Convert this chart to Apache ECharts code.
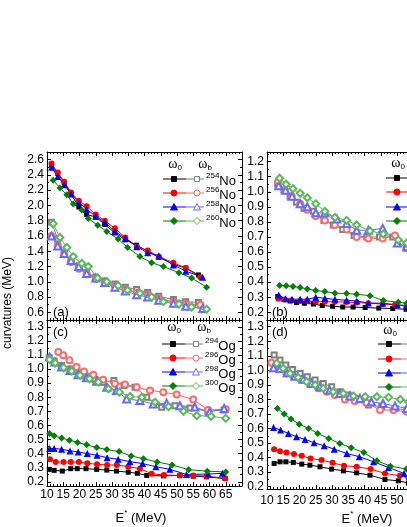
<!DOCTYPE html>
<html>
<head>
<meta charset="utf-8">
<script src="https://cdn.jsdelivr.net/npm/echarts@6.0.0/dist/echarts.min.js"></script>
<style>
  html, body { margin: 0; padding: 0; background: #fff; }
  #main { width: 407px; height: 527px; }
</style>
</head>
<body>
<div id="main"></div>
<script>
// curvatures (MeV) against E* (MeV), [E*, value]
// (a) No isotopes
var a254_w0 = [[11.4,2.53],[13.3,2.42],[15.3,2.30],[17.4,2.15],[19.8,1.98],[22.2,1.88],[25.0,1.85],[27.8,1.75],[30.9,1.64],[34.1,1.55],[37.6,1.48],[41.0,1.40],[44.4,1.32],[48.9,1.23],[52.7,1.18],[56.6,1.09]];
var a254_wb = [[11.4,1.78],[13.3,1.56],[15.3,1.37],[17.4,1.27],[19.8,1.21],[22.2,1.12],[25.0,1.06],[27.8,1.01],[30.9,0.97],[34.1,0.93],[37.6,0.90],[41.0,0.86],[44.4,0.81],[48.9,0.77],[52.7,0.74],[56.6,0.73]];
var a256_w0 = [[11.4,2.55],[13.3,2.43],[15.3,2.31],[17.4,2.17],[19.8,2.06],[22.2,1.99],[25.0,1.88],[27.8,1.80],[30.9,1.70],[34.1,1.58],[37.6,1.46],[41.0,1.41],[44.4,1.33],[48.9,1.25],[52.7,1.18],[57.2,1.06]];
var a256_wb = [[11.4,1.60],[13.3,1.48],[15.3,1.36],[17.4,1.26],[19.8,1.17],[22.2,1.10],[25.0,1.04],[27.8,0.99],[30.9,0.95],[34.1,0.90],[37.6,0.86],[41.0,0.83],[44.4,0.78],[48.9,0.74],[52.7,0.71],[57.2,0.70]];
var a258_w0 = [[11.4,2.50],[13.3,2.38],[15.3,2.27],[17.4,2.15],[19.8,2.04],[22.2,1.95],[25.0,1.86],[27.8,1.78],[30.9,1.66],[34.1,1.57],[37.6,1.46],[41.0,1.38],[44.4,1.34],[48.9,1.22],[52.7,1.14],[57.9,1.06]];
var a258_wb = [[11.4,1.60],[13.3,1.47],[15.3,1.37],[17.4,1.28],[19.8,1.20],[22.2,1.11],[25.0,1.05],[27.8,0.99],[30.9,0.93],[34.1,0.88],[37.6,0.83],[41.0,0.80],[44.4,0.76],[48.9,0.72],[52.7,0.68],[57.9,0.65]];
var a260_w0 = [[11.9,2.33],[14.0,2.23],[16.1,2.14],[18.1,2.02],[20.7,1.94],[22.7,1.83],[25.6,1.74],[28.4,1.66],[31.9,1.56],[34.8,1.45],[38.6,1.33],[42.2,1.25],[45.8,1.20],[50.6,1.12],[54.5,1.05],[59.1,0.93]];
var a260_wb = [[11.9,1.76],[14.0,1.58],[16.1,1.45],[18.1,1.33],[20.7,1.24],[22.7,1.20],[25.6,1.05],[28.4,1.00],[31.9,0.95],[34.8,0.89],[38.6,0.85],[42.2,0.80],[45.8,0.74],[50.6,0.71],[54.5,0.67],[59.1,0.64]];
// (b)
var b254_w0 = [[13.3,0.305],[15.2,0.285],[17.1,0.275],[19.1,0.265],[21.5,0.26],[24.3,0.255],[27.0,0.245],[30.2,0.24],[33.3,0.235],[36.5,0.235],[40.2,0.232],[44.4,0.228],[48.7,0.225],[52.8,0.22]];
var b254_wb = [[13.3,1.05],[15.2,1.01],[17.1,0.97],[19.1,0.93],[21.4,0.89],[24.3,0.87],[27.5,0.81],[30.4,0.78],[33.3,0.75],[36.8,0.71],[40.7,0.70],[44.6,0.70],[48.7,0.70],[52.8,0.625]];
var b256_w0 = [[13.5,0.29],[15.5,0.285],[17.6,0.28],[20.2,0.275],[22.4,0.275],[25.0,0.27],[27.8,0.27],[30.9,0.27],[34.5,0.268],[37.6,0.265],[41.2,0.26],[45.6,0.255],[49.4,0.25],[53.0,0.24]];
var b256_wb = [[13.5,1.07],[15.5,1.01],[17.6,0.97],[20.2,0.92],[22.4,0.88],[25.0,0.84],[27.8,0.81],[30.9,0.78],[34.5,0.75],[37.6,0.70],[41.2,0.69],[45.6,0.69],[49.4,0.71],[53.0,0.65]];
var b258_w0 = [[13.6,0.315],[15.7,0.29],[17.7,0.286],[20.2,0.288],[22.4,0.286],[25.0,0.30],[27.8,0.293],[30.9,0.286],[34.5,0.28],[37.6,0.275],[41.2,0.262],[45.6,0.26],[50.1,0.25],[53.0,0.245]];
var b258_wb = [[13.6,1.04],[15.7,1.01],[17.7,0.97],[20.2,0.92],[22.4,0.90],[25.0,0.86],[27.8,0.86],[31.5,0.82],[34.5,0.79],[37.6,0.745],[41.2,0.745],[45.6,0.757],[50.1,0.66],[53.0,0.635]];
var b260_w0 = [[13.9,0.378],[15.9,0.377],[18.0,0.372],[20.2,0.365],[22.4,0.355],[25.0,0.345],[27.8,0.338],[30.9,0.326],[34.5,0.325],[37.6,0.32],[41.7,0.31],[45.8,0.278],[50.4,0.267],[53.0,0.26]];
var b260_wb = [[13.9,1.09],[15.9,1.05],[18.0,1.02],[20.2,0.99],[22.4,0.96],[25.0,0.92],[27.8,0.87],[30.9,0.83],[34.5,0.81],[37.6,0.78],[41.7,0.74],[45.8,0.72],[50.4,0.68],[53.0,0.66]];
// (c) Og isotopes
var c294_w0 = [[10.7,0.288],[12.2,0.281],[14.7,0.276],[17.3,0.293],[19.3,0.293],[22.0,0.293],[25.3,0.288],[28.4,0.283],[31.4,0.276],[35.0,0.268],[37.8,0.26],[40.7,0.245],[45.8,0.242],[50.9,0.245],[55.0,0.24],[59.1,0.235],[64.8,0.222]];
var c294_wb = [[10.7,1.08],[12.2,1.057],[14.5,1.026],[17.1,1.0],[19.6,0.971],[22.2,0.943],[24.8,0.924],[27.3,0.907],[30.6,0.919],[33.7,0.883],[37.1,0.871],[40.7,0.80],[45.3,0.729],[49.4,0.74],[54.0,0.724],[59.5,0.70],[64.5,0.71]];
var c296_w0 = [[10.9,0.36],[12.7,0.34],[15.1,0.34],[17.3,0.34],[19.8,0.34],[22.4,0.331],[25.4,0.324],[28.5,0.319],[31.5,0.319],[35.0,0.307],[38.6,0.293],[42.2,0.257],[46.0,0.248],[50.9,0.245],[55.0,0.245],[59.1,0.24],[64.8,0.225]];
var c296_wb = [[13.5,1.121],[15.0,1.098],[16.9,1.062],[19.1,1.014],[21.4,0.983],[24.3,0.96],[27.3,0.924],[30.9,0.895],[34.0,0.89],[37.6,0.871],[41.7,0.848],[45.8,0.836],[49.9,0.819],[55.0,0.783],[59.6,0.71],[65.0,0.715]];
var c298_w0 = [[10.8,0.436],[12.2,0.436],[14.5,0.431],[17.1,0.419],[19.6,0.412],[22.4,0.40],[25.4,0.388],[28.5,0.371],[31.9,0.36],[35.5,0.343],[39.4,0.329],[43.5,0.307],[47.8,0.288],[52.9,0.252],[59.6,0.255],[64.0,0.26]];
var c298_wb = [[10.8,1.086],[12.4,1.05],[14.5,1.014],[17.1,0.99],[19.6,0.96],[22.2,0.938],[25.3,0.914],[28.4,0.871],[31.4,0.848],[34.5,0.788],[38.6,0.776],[42.7,0.752],[46.8,0.757],[50.9,0.74],[55.5,0.73],[60.0,0.695],[64.5,0.72]];
var c300_w0 = [[10.8,0.543],[12.2,0.526],[14.5,0.51],[16.9,0.495],[19.4,0.479],[22.2,0.462],[25.3,0.443],[28.4,0.429],[32.2,0.414],[35.9,0.383],[39.7,0.364],[43.9,0.34],[48.5,0.319],[53.6,0.286],[59.3,0.275],[65.0,0.27]];
var c300_wb = [[10.8,1.067],[12.5,1.043],[15.1,1.01],[17.6,0.986],[20.2,0.955],[23.1,0.931],[25.8,0.907],[28.9,0.86],[32.3,0.836],[35.6,0.805],[39.2,0.80],[43.3,0.764],[47.4,0.733],[52.0,0.70],[56.1,0.669],[60.5,0.665],[65.0,0.65]];
// (d)
var d294_w0 = [[12.2,0.360],[14.0,0.371],[15.8,0.371],[18.1,0.367],[20.7,0.355],[23.2,0.348],[26.3,0.337],[29.9,0.321],[33.5,0.309],[37.6,0.295],[41.7,0.279],[46.3,0.249],[50.4,0.240],[53.5,0.226]];
var d294_wb = [[12.2,1.105],[14.0,1.071],[15.8,1.036],[17.9,1.006],[20.2,0.979],[22.4,0.956],[24.8,0.933],[27.3,0.910],[29.9,0.887],[32.5,0.853],[35.0,0.830],[37.6,0.807],[41.2,0.761],[45.3,0.750],[49.4,0.738],[53.0,0.727]];
var d296_w0 = [[12.2,0.458],[14.0,0.444],[16.0,0.435],[18.3,0.424],[20.7,0.412],[23.4,0.394],[26.8,0.383],[30.2,0.364],[33.7,0.344],[37.6,0.337],[41.9,0.321],[46.3,0.291],[50.9,0.275],[53.5,0.263]];
var d296_wb = [[11.4,1.052],[14.0,1.013],[16.0,0.979],[18.3,0.956],[20.7,0.933],[23.2,0.905],[25.8,0.876],[28.4,0.853],[30.9,0.830],[34.0,0.800],[37.0,0.789],[40.6,0.777],[44.8,0.727],[48.9,0.727],[53.0,0.715]];
var d298_w0 = [[12.0,0.607],[14.2,0.589],[16.6,0.566],[19.1,0.543],[21.7,0.525],[24.5,0.502],[27.6,0.481],[30.7,0.458],[34.6,0.428],[38.4,0.406],[42.8,0.371],[47.4,0.332],[52.2,0.291]];
var d298_wb = [[12.0,1.018],[14.0,1.013],[16.2,0.983],[18.6,0.960],[21.1,0.938],[23.7,0.910],[26.3,0.887],[29.3,0.864],[32.4,0.841],[35.5,0.823],[38.6,0.807],[42.1,0.784],[45.7,0.772],[49.4,0.754],[53.0,0.738]];
var d300_w0 = [[13.2,0.738],[15.3,0.699],[17.4,0.665],[19.9,0.630],[22.8,0.600],[25.6,0.566],[29.0,0.532],[32.4,0.497],[35.9,0.467],[39.8,0.435],[43.8,0.378],[48.0,0.341],[52.9,0.321]];
var d300_wb = [[13.0,1.048],[15.0,1.013],[17.1,0.979],[19.6,0.951],[22.2,0.922],[24.8,0.899],[27.3,0.876],[30.4,0.853],[33.5,0.841],[36.6,0.823],[40.2,0.818],[43.8,0.818],[47.4,0.814],[51.0,0.800],[53.6,0.784]];

var noMass = ['254', '256', '258', '260'];
var ogMass = ['294', '296', '298', '300'];
var xTicks = [10, 70, 5];
var yTicks = [[0.5, 2.7, 0.2], [0.149, 1.264, 0.1], [0.17, 1.348, 0.1], [0.184, 1.346, 0.1]];

var dark = ['#000000', '#ff0000', '#0000ff', '#008000'];
var light = ['#808080', '#ff6a6a', '#6a6aff', '#5cb85c'];
var shapes = ['rect', 'circle', 'triangle', 'diamond'];
var emptyShapes = ['emptyRect', 'emptyCircle', 'emptyTriangle', 'emptyDiamond'];
var sizes = [5, 6, 7, 7];
var FONT = '"Liberation Sans", Arial, sans-serif';

var grids = [
  {left: 47, top: 152, width: 195, height: 168},
  {left: 267, top: 152, width: 195, height: 168},
  {left: 47, top: 320, width: 195, height: 166},
  {left: 267, top: 320, width: 195, height: 169}
];
grids.forEach(function (g) { g.containLabel = false; g.outerBoundsMode = 'none'; });

function curve(data, panel, k, open) {
  var c = open ? light[k] : dark[k];
  return {
    type: 'line', xAxisIndex: panel * 2, yAxisIndex: panel * 2,
    data: data,
    symbol: open ? emptyShapes[k] : shapes[k],
    symbolSize: sizes[k],
    lineStyle: {color: c, width: 1},
    itemStyle: {color: c},
    z: open ? 2 : 3,
    animation: false, silent: true
  };
}

var panels = [
  [a254_w0, a254_wb, a256_w0, a256_wb, a258_w0, a258_wb, a260_w0, a260_wb],
  [b254_w0, b254_wb, b256_w0, b256_wb, b258_w0, b258_wb, b260_w0, b260_wb],
  [c294_w0, c294_wb, c296_w0, c296_wb, c298_w0, c298_wb, c300_w0, c300_wb],
  [d294_w0, d294_wb, d296_w0, d296_wb, d298_w0, d298_wb, d300_w0, d300_wb]
];

var series = [];
panels.forEach(function (list, p) {
  for (var k = 0; k < 4; k++) {
    series.push(curve(list[k * 2 + 1], p, k, true));
    series.push(curve(list[k * 2], p, k, false));
  }
});

var xAxes = [], yAxes = [];
grids.forEach(function (g, p) {
  var labelled = p >= 2;
  ['bottom', 'top'].forEach(function (pos) {
    xAxes.push({
      gridIndex: p, type: 'value', position: pos,
      min: xTicks[0], max: xTicks[1], interval: xTicks[2],
      axisLine: {show: true, lineStyle: {color: '#000', width: 1}},
      axisTick: {show: true, inside: true, length: 4, lineStyle: {color: '#000'}},
      minorTick: {show: true, splitNumber: 5, length: 2, lineStyle: {color: '#000'}},
      splitLine: {show: false},
      axisLabel: {
        show: labelled && pos === 'bottom', color: '#000', fontSize: 12, fontFamily: FONT,
        margin: p === 3 ? 6 : 3,
        formatter: function (v) { return v === 70 ? '' : String(v); }
      }
    });
  });
  var yr = yTicks[p];
  ['left', 'right'].forEach(function (pos) {
    yAxes.push({
      gridIndex: p, type: 'value', position: pos,
      min: yr[0], max: yr[1], minInterval: yr[2], maxInterval: yr[2], splitNumber: 10,
      axisLine: {show: true, lineStyle: {color: '#000', width: 1}},
      axisTick: {show: true, inside: true, length: 4, lineStyle: {color: '#000'}},
      minorTick: {show: true, splitNumber: 2, length: 2, lineStyle: {color: '#000'}},
      splitLine: {show: false},
      axisLabel: {
        show: pos === 'left', color: '#000', fontSize: 12, fontFamily: FONT, margin: 3,
        formatter: function (v) {
          var n = v / yr[2];
          return Math.abs(n - Math.round(n)) < 1e-6 ? v.toFixed(1) : '';
        }
      }
    });
  });
});

// legend boxes, drawn by hand like the Origin legend
function mark(x, y, k, filled) {
  var c = filled ? dark[k] : light[k];
  var st = {fill: filled ? c : '#fff', stroke: c, lineWidth: 1};
  if (k === 0) return {type: 'rect', shape: {x: x - 2.5, y: y - 2.5, width: 5, height: 5}, style: st, z: 10};
  if (k === 1) return {type: 'circle', shape: {cx: x, cy: y, r: 3}, style: st, z: 10};
  if (k === 2) return {type: 'polygon', shape: {points: [[x, y - 3.5], [x + 3.5, y + 3], [x - 3.5, y + 3]]}, style: st, z: 10};
  return {type: 'polygon', shape: {points: [[x, y - 3.5], [x + 3.5, y], [x, y + 3.5], [x - 3.5, y]]}, style: st, z: 10};
}

var omegaRich = {
  w: {fontFamily: '"Liberation Serif", serif', fontSize: 14, lineHeight: 16, verticalAlign: 'middle'},
  s: {fontFamily: FONT, fontSize: 8, lineHeight: 8, verticalAlign: 'bottom'}
};
var nucRich = {
  s: {fontFamily: FONT, fontSize: 8, lineHeight: 8, verticalAlign: 'top'},
  n: {fontFamily: FONT, fontSize: 13, lineHeight: 16, verticalAlign: 'bottom'}
};

function legend(mx, headY, rows, masses, elem) {
  var els = [];
  els.push({type: 'text', x: mx + 1, y: headY, z: 10,
    style: {text: '{w|ω}{s|0}', rich: omegaRich, align: 'center', verticalAlign: 'middle', fill: '#000'}});
  els.push({type: 'text', x: mx + 31, y: headY, z: 10,
    style: {text: '{w|ω}{s|b}', rich: omegaRich, align: 'center', verticalAlign: 'middle', fill: '#000'}});
  rows.forEach(function (ry, k) {
    els.push({type: 'line', shape: {x1: mx - 11, y1: ry, x2: mx + 12, y2: ry}, style: {stroke: dark[k], lineWidth: 1}, z: 9});
    els.push({type: 'line', shape: {x1: mx + 12, y1: ry, x2: mx + 30, y2: ry}, style: {stroke: light[k], lineWidth: 1}, z: 9});
    els.push(mark(mx, ry, k, true));
    els.push(mark(mx + 23, ry, k, false));
    els.push({type: 'text', x: mx + 32, y: ry + 1, z: 10,
      style: {text: '{s|' + masses[k] + '}{n|' + elem + '}', rich: nucRich, align: 'left', verticalAlign: 'middle', fill: '#000'}});
  });
  return els;
}

function plain(text, x, y, size) {
  return {type: 'text', x: x, y: y, z: 10,
    style: {text: text, font: size + 'px ' + FONT, fill: '#000', align: 'left', verticalAlign: 'middle'}};
}

var eRich = {
  e: {fontFamily: FONT, fontSize: 13, lineHeight: 16, verticalAlign: 'bottom'},
  s: {fontFamily: FONT, fontSize: 8, lineHeight: 8, verticalAlign: 'top'}
};

var graphic = []
  .concat(legend(174, 164, [179, 193, 207, 221], noMass, 'No'))
  .concat(legend(397, 163, [178, 192, 207, 221], noMass, 'No'))
  .concat(legend(173, 327, [344, 358, 372, 386], ogMass, 'Og'))
  .concat(legend(389, 330, [344, 359, 373, 387], ogMass, 'Og'))
  .concat([
    plain('(a)', 53, 312, 13),
    plain('(b)', 272, 312, 13),
    plain('(c)', 53, 332, 13),
    plain('(d)', 272, 332, 13),
    {type: 'text', x: 8, y: 303, rotation: Math.PI / 2, z: 10,
      style: {text: 'curvatures (MeV)', font: '12px ' + FONT, fill: '#000', align: 'center', verticalAlign: 'middle'}},
    {type: 'text', x: 141, y: 517, z: 10,
      style: {text: '{e|E}{s|*}{e| (MeV)}', rich: eRich, fill: '#000', align: 'center', verticalAlign: 'middle'}},
    {type: 'text', x: 367, y: 518, z: 10,
      style: {text: '{e|E}{s|*}{e| (MeV)}', rich: eRich, fill: '#000', align: 'center', verticalAlign: 'middle'}}
  ]);

var chart = echarts.init(document.getElementById('main'), null, {renderer: 'canvas'});
chart.setOption({
  backgroundColor: '#fff',
  animation: false,
  textStyle: {fontFamily: FONT},
  grid: grids,
  xAxis: xAxes,
  yAxis: yAxes,
  series: series,
  graphic: graphic
});
</script>
</body>
</html>
